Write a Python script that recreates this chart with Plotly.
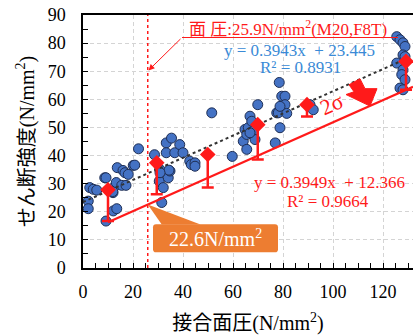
import plotly.graph_objects as go

# blue measured points
px_x = [2.1, 2.1, 2.7, 4.1, 5.5, 8.7, 9.2, 12.0, 12.1, 13.5, 12.8, 11.9, 13.3, 13.7, 15.5, 16.0,
        16.8, 17.2, 18.1, 20.1, 20.7, 22.2, 9.2,
        28.6, 30.7, 30.5, 31.5, 32.1, 34.1, 34.8, 34.4, 30.8, 33.3, 33.3, 35.4, 36.7, 38.7, 40.0,
        42.7, 43.3, 44.8, 44.8,
        51.5, 59.7, 64.1, 64.8, 65.5, 65.5, 66.1, 66.8, 67.5, 68.1, 68.8, 69.9, 66.8,
        76.9, 77.5, 78.1, 78.5, 78.8, 79.5, 80.8, 80.8, 81.5, 78.8,
        90.8, 92.1,
        125.5, 126.8, 128.0, 128.8, 128.0, 128.8, 125.5, 128.0, 127.5, 128.8, 126.8, 128.0]
px_y = [23.8, 21.1, 28.6, 28.0, 27.7, 32.1, 32.1, 26.8, 20.3, 21.1, 29.1, 27.2, 30.4, 35.7, 29.4, 34.7,
        33.9, 29.4, 33.3, 36.5, 36.6, 42.4, 16.7,
        40.3, 35.1, 30.9, 23.3, 28.6, 32.1, 34.5, 34.8, 33.9, 44.5, 41.0, 46.2, 41.0, 43.9, 41.0,
        38.0, 36.8, 37.4, 36.2,
        55.2, 39.7, 45.1, 49.3, 47.5, 42.2, 49.9, 54.0, 52.2, 48.7, 45.7, 58.1, 48.1,
        44.5, 55.2, 55.2, 66.0, 49.9, 61.1, 61.1, 58.1, 55.0, 57.5,
        58.1, 56.3,
        82.3, 81.2, 80.1, 78.8, 75.8, 75.2, 72.9, 70.5, 68.8, 67.0, 64.0, 63.4]

# group means and lower (mean - 2 sigma) values
mean_x = [10.0, 29.5, 49.9, 69.9, 89.6, 129.2]
mean_y = [27.8, 37.4, 40.4, 51.0, 58.1, 73.5]
low_y = [16.7, 26.2, 28.6, 38.6, 53.9, 63.4]

# regression lines
fit_all = (0.3943, 23.445)
fit_low = (0.3949, 12.366)
fit_all_x = [0, 129]
fit_low_x = [10.0, 132]
contact_p = 25.9

xt = [0, 20, 40, 60, 80, 100, 120]
yt = [0, 10, 20, 30, 40, 50, 60, 70, 80, 90]

SERIF = "Liberation Serif, Noto Sans CJK JP"
RED = "#ff1a1a"
BLUE_T = "#3a8ad6"
ORANGE = "#ED7D31"

fig = go.Figure()

fig.add_trace(go.Scatter(x=px_x, y=px_y, mode="markers",
                         marker=dict(size=10, color="#4472C4",
                                     line=dict(color="#1f2f55", width=1)),
                         showlegend=False, cliponaxis=True))

fig.add_trace(go.Scatter(x=fit_all_x, y=[fit_all[0] * v + fit_all[1] for v in fit_all_x],
                         mode="lines", line=dict(color="#333333", width=2, dash="dot"),
                         showlegend=False))
fig.add_trace(go.Scatter(x=fit_low_x, y=[fit_low[0] * v + fit_low[1] for v in fit_low_x],
                         mode="lines", line=dict(color=RED, width=2.2),
                         showlegend=False))

fig.add_trace(go.Scatter(x=mean_x, y=mean_y, mode="markers",
                         marker=dict(symbol="diamond", size=12, color=RED),
                         error_y=dict(type="data", symmetric=False,
                                      array=[0] * len(mean_y),
                                      arrayminus=[m - l for m, l in zip(mean_y, low_y)],
                                      color=RED, thickness=2.5, width=6),
                         showlegend=False))

shapes = [
    dict(type="line", xref="x", yref="y", x0=contact_p, x1=contact_p, y0=0, y1=90,
         line=dict(color=RED, width=1.5, dash="dot")),
    # label underline
    dict(type="line", xref="x", yref="y", x0=39.6, x1=126, y0=82.0, y1=82.0,
         line=dict(color=RED, width=1.2)),
    # big arrow
    dict(type="path", xref="x", yref="y",
         path="M 106.4,65.2 L 110.8,67.3 L 112.8,63.8 L 117.6,63.8 L 114.8,57.6 L 105.2,61.7 L 108.4,62.7 Z",
         fillcolor=RED, line=dict(color=RED, width=1)),
    # orange callout box
    dict(type="path", xref="x", yref="y",
         path="M 29.2,15.6 L 76.8,15.6 Q 78,15.6 78,14.5 L 78,6.7 Q 78,5.6 76.8,5.6 L 29.2,5.6 Q 28,5.6 28,6.7 L 28,14.5 Q 28,15.6 29.2,15.6 Z",
         fillcolor=ORANGE, line=dict(width=0)),
    dict(type="path", xref="x", yref="y",
         path="M 25.9,22.6 L 47,15.5 L 31.5,15.5 Z",
         fillcolor=ORANGE, line=dict(width=0)),
]

annotations = [
    dict(x=81.8, y=85.4, xref="x", yref="y", showarrow=False,
         text="面 圧:25.9N/mm<sup>2</sup>(M20,F8T)",
         font=dict(family=SERIF, size=17, color=RED)),
    dict(x=contact_p + 0.3, y=70.3, ax=39.6, ay=82.0, xref="x", yref="y",
         axref="x", ayref="y", showarrow=True, arrowhead=2, arrowsize=1.2,
         arrowwidth=1, arrowcolor=RED, text=""),
    dict(x=86.4, y=77.4, xref="x", yref="y", showarrow=False,
         text="y = 0.3943x  + 23.445", font=dict(family=SERIF, size=17, color=BLUE_T)),
    dict(x=86.8, y=71.2, xref="x", yref="y", showarrow=False,
         text="R² = 0.8931", font=dict(family=SERIF, size=17, color=BLUE_T)),
    dict(x=98.4, y=30.5, xref="x", yref="y", showarrow=False,
         text="y = 0.3949x  + 12.366", font=dict(family=SERIF, size=17, color=RED)),
    dict(x=98.0, y=23.7, xref="x", yref="y", showarrow=False,
         text="R² = 0.9664", font=dict(family=SERIF, size=17, color=RED)),
    dict(x=99.2, y=58.3, xref="x", yref="y", showarrow=False, textangle=-24,
         text="2σ", font=dict(family=SERIF, size=22, color=RED)),
    dict(x=52.8, y=10.6, xref="x", yref="y", showarrow=False,
         text="22.6N/mm<sup>2</sup>", font=dict(family=SERIF, size=20, color="white")),
]

fig.update_layout(
    width=413, height=335,
    margin=dict(l=83, r=0, t=15, b=67),
    plot_bgcolor="white", paper_bgcolor="white",
    shapes=shapes, annotations=annotations,
    font=dict(family=SERIF, color="black"),
)
fig.update_xaxes(
    range=[0, 132], tickvals=xt, ticktext=[str(v) for v in xt],
    ticks="inside", ticklen=5, tickcolor="black", ticklabelstandoff=7,
    minor=dict(dtick=5, tick0=0, ticks="inside", ticklen=5, tickcolor="black", showgrid=False),
    showline=True, linecolor="black", linewidth=1.5, mirror=True,
    showgrid=True, gridcolor="#d4d4d4", griddash="4px,3px", gridwidth=1,
    zeroline=False, tickfont=dict(family=SERIF, size=18, color="black"),
    title=dict(text="接合面圧(N/mm<sup>2</sup>)", font=dict(family=SERIF, size=20, color="black"),
               standoff=16),
)
fig.update_yaxes(
    range=[0, 90], tickvals=yt, ticktext=[str(v) for v in yt],
    ticks="inside", ticklen=5, tickcolor="black", ticklabelstandoff=12,
    minor=dict(dtick=5, tick0=0, ticks="inside", ticklen=5, tickcolor="black", showgrid=False),
    showline=True, linecolor="black", linewidth=1.5, mirror=False,
    showgrid=True, gridcolor="#d4d4d4", griddash="4px,3px", gridwidth=1,
    zeroline=False, tickfont=dict(family=SERIF, size=18, color="black"),
    title=dict(text="せん断強度(N/mm<sup>2</sup>)", font=dict(family=SERIF, size=20, color="black"),
               standoff=8),
)

fig.write_html("out.html")
